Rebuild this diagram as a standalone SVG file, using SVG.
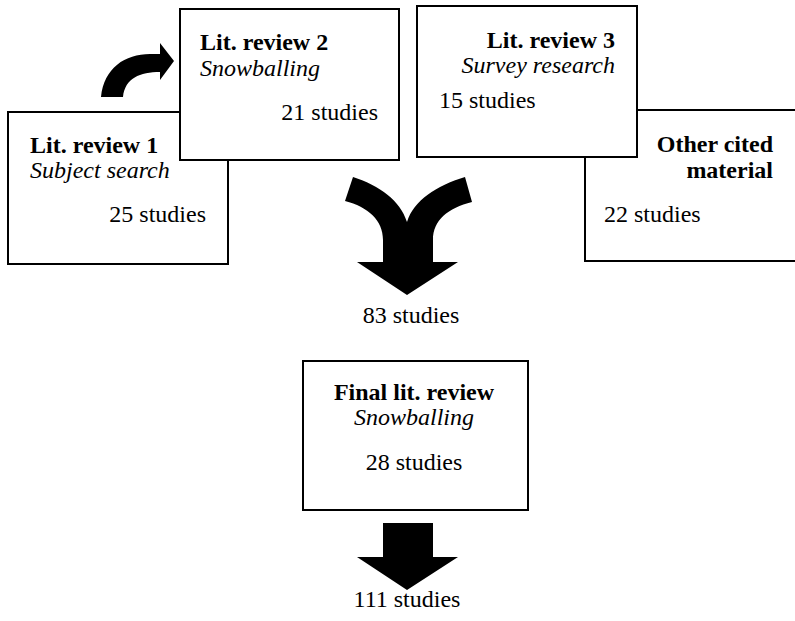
<svg xmlns="http://www.w3.org/2000/svg" width="795" height="621" viewBox="0 0 795 621">
  <style>
    .box { fill: #ffffff; stroke: #000000; stroke-width: 2; }
    text { font-family: "Liberation Serif", "Times New Roman", serif; font-size: 24px; fill: #000000; }
    .title { font-weight: bold; }
    .method { font-style: italic; }
    .end { text-anchor: end; }
    .mid { text-anchor: middle; }
    .arrow { fill: #000000; stroke: none; }
  </style>
  <rect width="795" height="621" fill="#ffffff"/>

  <!-- Lit. review 1 -->
  <g id="lit-review-1">
    <rect class="box" x="8" y="112" width="220" height="152"/>
    <text class="title" x="30" y="153">Lit. review 1</text>
    <text class="method" x="30" y="178">Subject search</text>
    <text class="end" x="206" y="222">25 studies</text>
  </g>

  <!-- Lit. review 2 (drawn over review 1) -->
  <g id="lit-review-2">
    <rect class="box" x="180" y="9" width="219" height="151"/>
    <text class="title" x="200" y="50">Lit. review 2</text>
    <text class="method" x="200" y="76">Snowballing</text>
    <text class="end" x="378" y="120">21 studies</text>
  </g>

  <!-- Other cited material (extends past the right edge) -->
  <g id="other-cited">
    <rect class="box" x="585" y="110" width="230" height="151"/>
    <text class="title end" x="773" y="152">Other cited</text>
    <text class="title end" x="773" y="178">material</text>
    <text x="604" y="222">22 studies</text>
  </g>

  <!-- Lit. review 3 (drawn over other cited material) -->
  <g id="lit-review-3">
    <rect class="box" x="417" y="6" width="220" height="151"/>
    <text class="title end" x="615" y="48">Lit. review 3</text>
    <text class="method end" x="615" y="73">Survey research</text>
    <text x="439" y="108">15 studies</text>
  </g>

  <!-- Combined total -->
  <g id="total-83">
    <text class="mid" x="411" y="323">83 studies</text>
  </g>

  <!-- Final lit. review -->
  <g id="final-review">
    <rect class="box" x="303" y="361" width="225" height="149"/>
    <text class="title mid" x="414" y="400">Final lit. review</text>
    <text class="method mid" x="414" y="425">Snowballing</text>
    <text class="mid" x="414" y="470">28 studies</text>
  </g>

  <!-- Grand total -->
  <g id="total-111">
    <text class="mid" x="407" y="607">111 studies</text>
  </g>

  <!-- Block arrows -->
  <g id="connectors">
    <!-- curved arrow from review 1 up into review 2 -->
    <path class="arrow" d="M101,97 C104,68 125,54 150,54 L160,54 L160,43 L174,61 L160,80 L160,72 C140,72 125,78 123,97 Z"/>
    <!-- two arms merging into one downward arrow -->
    <path class="arrow" d="M353,177 C380,186 400,200 407,222 C414,200 436,186 465,177 L472,202 C448,208 433,220 433,240 L433,262 L458,262 L407,295 L357,262 L383,262 L383,240 C383,220 368,207 345,201 Z"/>
    <!-- straight downward arrow -->
    <path class="arrow" d="M383,523 L433,523 L433,557 L458,557 L407,590 L357,557 L383,557 Z"/>
  </g>
</svg>
